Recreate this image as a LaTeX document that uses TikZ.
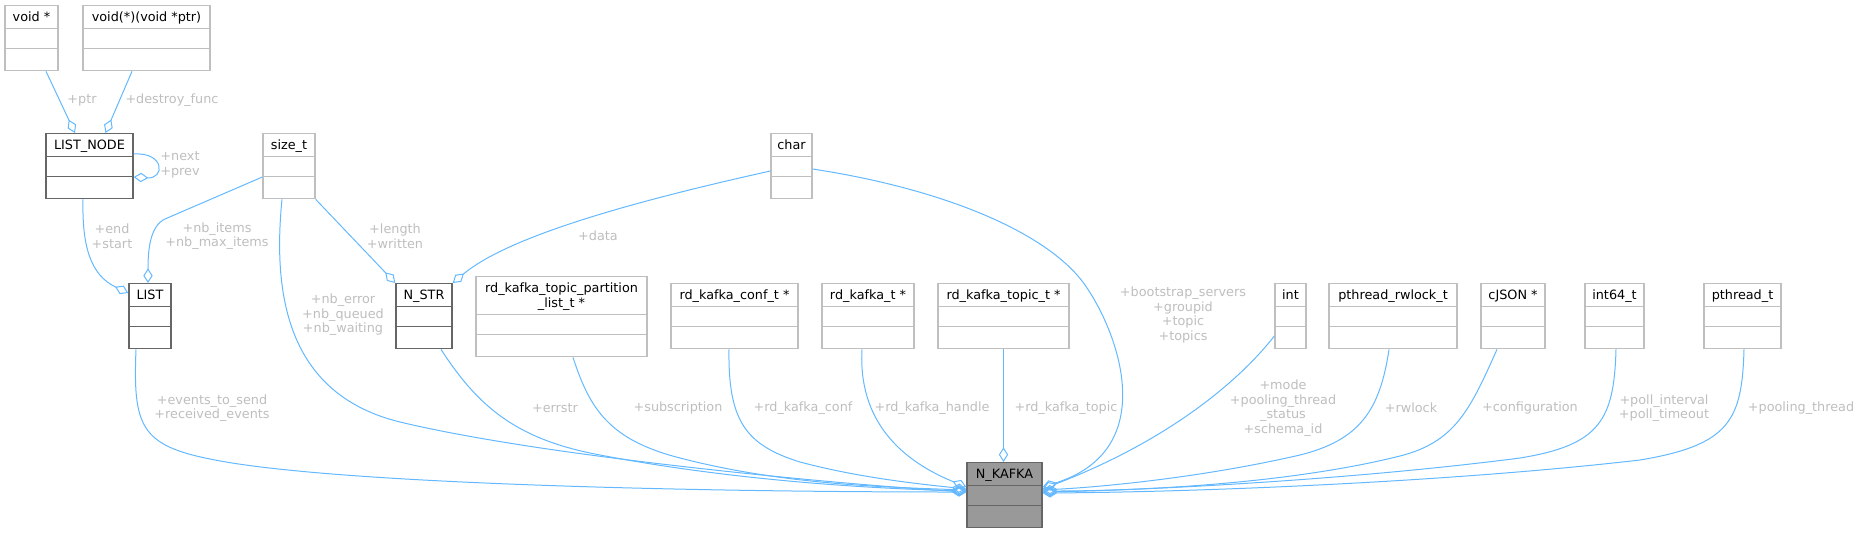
\documentclass[tikz,border=0pt]{standalone}
\usepackage{fontspec}
\setmainfont{DejaVu Sans}
\usetikzlibrary{arrows.meta, calc}

\definecolor{boxgray}{HTML}{BFBFBF}
\definecolor{boxdark}{HTML}{666666}
\definecolor{mainfill}{HTML}{999999}
\definecolor{linkblue}{HTML}{63B8FF}
\definecolor{rolegray}{HTML}{BEBEBE}

\begin{document}
\begin{tikzpicture}[
    x=0.75pt, y=-0.75pt,
    typebox/.style={rectangle, draw=#1, line width=1pt, anchor=north, inner xsep=0pt, inner ysep=0pt,
      text height=12pt, text depth=36.75pt, font=\fontsize{9.6}{10.9}\selectfont,
      path picture={\draw[#1, line width=1pt]
        ([yshift=31.5pt]path picture bounding box.south west) -- ([yshift=31.5pt]path picture bounding box.south east)
        ([yshift=16.5pt]path picture bounding box.south west) -- ([yshift=16.5pt]path picture bounding box.south east);}},
    typebox/.default=boxgray,
    boxw/.style={minimum width=#1*0.75pt},
    role/.style={text=rolegray, align=center, inner sep=0pt, font=\fontsize{9.6}{10.9}\selectfont},
    member/.style={draw=linkblue, line width=0.75pt, -{Diamond[open, length=11pt, width=7pt]}}
  ]
    \useasboundingbox (0,0) rectangle (1860,533);

    % types and structs
    \node[typebox, boxw=53] (voidptr) at (31.5,5) {void *};
    \node[typebox, boxw=127] (destroyfn) at (146.5,5) {void(*)(void *ptr)};
    \node[typebox=boxdark, boxw=87] (listnode) at (89.5,133) {LIST\_NODE};
    \node[typebox, boxw=52] (sizet) at (289,133) {size\_t};
    \node[typebox, boxw=41] (chartype) at (791.5,133) {char};
    \node[typebox=boxdark, boxw=42] (list) at (150,283) {LIST};
    \node[typebox=boxdark, boxw=56] (nstr) at (424,283) {N\_STR};
    \node[typebox, boxw=171, text depth=48pt] (partlist) at (561.5,276)
      {\begin{tabular}[t]{@{}c@{}}rd\_kafka\_topic\_partition\\\_list\_t *\end{tabular}};
    \node[typebox, boxw=127] (kconf) at (734.5,283) {rd\_kafka\_conf\_t *};
    \node[typebox, boxw=92] (khandle) at (868,283) {rd\_kafka\_t *};
    \node[typebox, boxw=131] (ktopic) at (1003.5,283) {rd\_kafka\_topic\_t *};
    \node[typebox, boxw=31] (inttype) at (1290.5,283) {int};
    \node[typebox, boxw=128] (rwlock) at (1393,283) {pthread\_rwlock\_t};
    \node[typebox, boxw=64] (cjson) at (1513,283) {cJSON *};
    \node[typebox, boxw=59] (int64) at (1614.5,283) {int64\_t};
    \node[typebox, boxw=77] (pthread) at (1742.5,283) {pthread\_t};
    \node[typebox=boxdark, fill=mainfill, boxw=75] (nkafka) at (1004.5,462) {N\_KAFKA};

    % LIST_NODE members
    \draw[member] ($(voidptr.south)+(14.5,0)$) -- ($(listnode.north)+(-14.5,0)$);
    \draw[member] ($(destroyfn.south)+(-14.5,0)$) -- ($(listnode.north)+(16,0)$);
    \draw[member] ($(listnode.north east)+(0,21)$) .. controls (165,152) and (165,179) .. ($(listnode.north east)+(0,44)$);
    \node[role] (r-ptr) at (82,100) {+ptr};
    \node[role] (r-destroy) at (172,100) {+destroy\_func};
    \node[role] (r-next) at (180,165) {+next\\+prev};

    % LIST and N_STR members
    \draw[member] ($(listnode.south)+(-6.5,0)$) .. controls (82,245) and (90,275) .. ($(list.north west)+(0,10)$);
    \draw[member] ($(sizet.north west)+(0,44)$) -- (165,219) .. controls (150,226) and (148,250) .. ($(list.north)+(-2,0)$);
    \draw[member] (sizet.south east) -- (nstr.north west);
    \draw[member] ($(chartype.north west)+(0,38)$) .. controls (640,200) and (510,235) .. (nstr.north east);
    \node[role] (r-end) at (112,236) {+end\\+start};
    \node[role] (r-items) at (217,236) {+nb\_items\\+nb\_max\_items};
    \node[role] (r-len) at (395,236) {+length\\+written};
    \node[role] (r-data) at (598,236) {+data};

    % N_KAFKA members, left side
    \draw[member] ($(list.south)+(-14,0)$) .. controls (133,425) and (140,445) .. (210,459)
      .. controls (330,484) and (700,492) .. ($(nkafka.north west)+(0,30)$);
    \draw[member] ($(sizet.south)+(-7,0)$) .. controls (272,300) and (290,395) .. (400,422)
      .. controls (550,458) and (850,485) .. ($(nkafka.north west)+(0,30)$);
    \draw[member] ($(nstr.south)+(17,0)$) .. controls (480,410) and (520,440) .. (600,455)
      .. controls (720,478) and (850,488) .. ($(nkafka.north west)+(0,29)$);
    \draw[member] ($(partlist.south)+(11.5,0)$) .. controls (590,410) and (610,440) .. (680,458)
      .. controls (780,484) and (880,487) .. ($(nkafka.north west)+(0,28)$);
    \draw[member] ($(kconf.south)+(-5.5,0)$) .. controls (728,420) and (745,445) .. (800,462)
      .. controls (860,478) and (920,484) .. ($(nkafka.north west)+(0,27)$);
    \draw[member] ($(khandle.south)+(-6,0)$) .. controls (858,420) and (900,460) .. ($(nkafka.north west)+(0,25)$);
    \draw[member] (ktopic.south) -- (ktopic.south |- nkafka.north);

    % N_KAFKA members, right side
    \draw[member] ($(chartype.north east)+(0,36)$) .. controls (950,190) and (1050,235) .. (1085,285)
      .. controls (1120,335) and (1160,450) .. ($(nkafka.north east)+(0,25)$);
    \draw[member] ($(inttype.north west)+(0,53)$) .. controls (1240,380) and (1170,440) .. ($(nkafka.north east)+(0,27)$);
    \draw[member] ($(rwlock.south)+(-4,0)$) .. controls (1380,410) and (1360,440) .. (1300,455)
      .. controls (1200,478) and (1100,487) .. ($(nkafka.north east)+(0,28)$);
    \draw[member] ($(cjson.south)+(-16,0)$) .. controls (1470,410) and (1455,442) .. (1400,456)
      .. controls (1280,486) and (1120,491) .. ($(nkafka.north east)+(0,29)$);
    \draw[member] ($(int64.south)+(1.5,0)$) .. controls (1614,420) and (1600,445) .. (1520,458)
      .. controls (1350,480) and (1150,490) .. ($(nkafka.north east)+(0,30)$);
    \draw[member] ($(pthread.south)+(1.5,0)$) .. controls (1742,420) and (1730,445) .. (1640,460)
      .. controls (1450,482) and (1200,492) .. ($(nkafka.north east)+(0,31)$);

    \node[role] (r-nb) at (343,315) {+nb\_error\\+nb\_queued\\+nb\_waiting};
    \node[role] (r-bootstrap) at (1183,315) {+bootstrap\_servers\\+groupid\\+topic\\+topics};
    \node[role] (r-events) at (212,408) {+events\_to\_send\\+received\_events};
    \node[role] (r-errstr) at (555,408) {+errstr};
    \node[role] (r-sub) at (678,408) {+subscription};
    \node[role] (r-conf) at (803,408) {+rd\_kafka\_conf};
    \node[role] (r-handle) at (932,408) {+rd\_kafka\_handle};
    \node[role] (r-topic) at (1066,408) {+rd\_kafka\_topic};
    \node[role] (r-mode) at (1283,408) {+mode\\+pooling\_thread\\\_status\\+schema\_id};
    \node[role] (r-rwlock) at (1411,408) {+rwlock};
    \node[role] (r-config) at (1530,408) {+configuration};
    \node[role] (r-poll) at (1664,408) {+poll\_interval\\+poll\_timeout};
    \node[role] (r-pthread) at (1801,408) {+pooling\_thread};
  \end{tikzpicture}
\end{document}
